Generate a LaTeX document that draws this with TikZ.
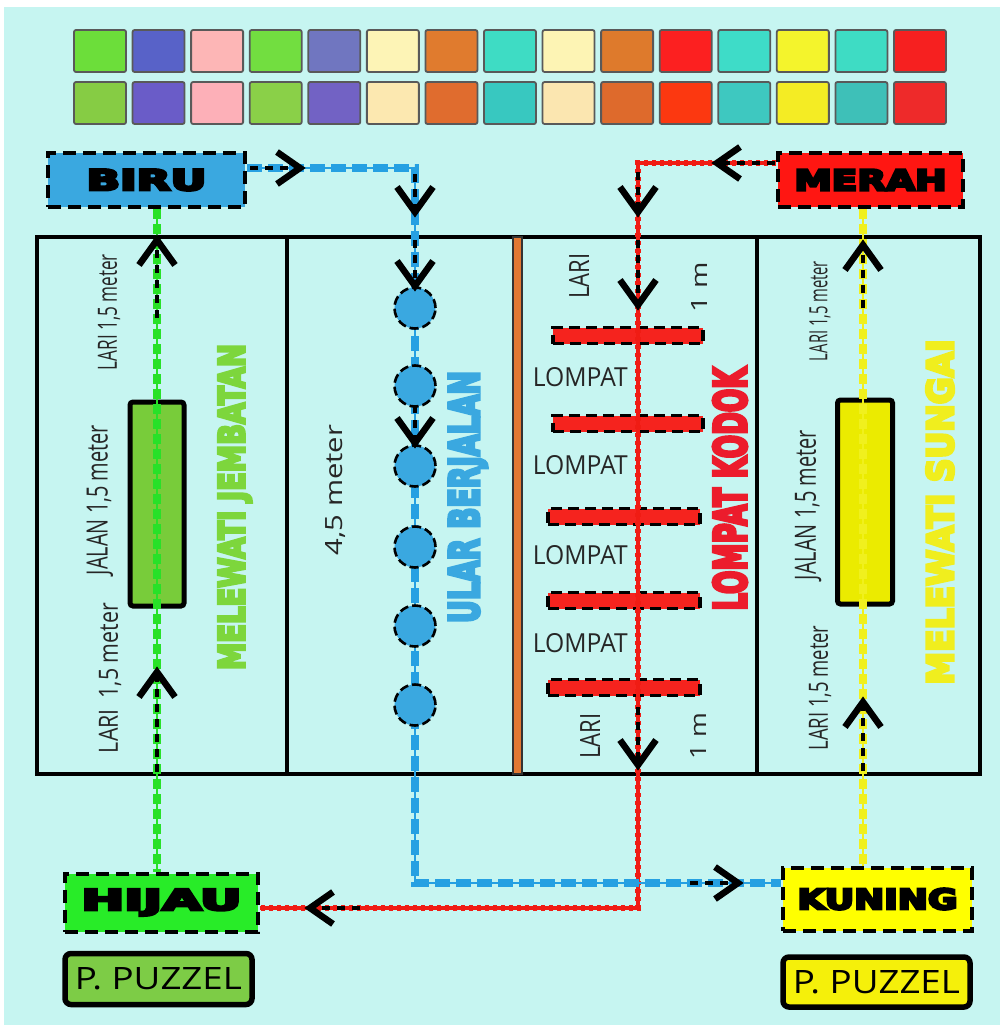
\documentclass[tikz,border=0pt]{standalone}
\usepackage{fontspec}
\usepackage{graphicx}
\newfontfamily\heavyfont{DejaVu Sans}[BoldFeatures={FakeBold=8}]
\newfontfamily\plainfont{Open Sans}
\newcommand\rszbox[3]{\resizebox{#1pt}{#2pt}{#3}}
\newcommand\heavytext[1]{{\heavyfont\bfseries #1}}
\definecolor{bg}{RGB}{198,245,241}
\definecolor{birublue}{RGB}{58,168,224}
\definecolor{blueline}{RGB}{38,160,226}
\definecolor{merahred}{RGB}{255,22,18}
\definecolor{hijaugreen}{RGB}{40,236,40}
\definecolor{kuningyellow}{RGB}{255,255,0}
\definecolor{puzgreen}{RGB}{125,204,70}
\definecolor{puzyellow}{RGB}{245,240,10}
\definecolor{greenline}{RGB}{40,225,40}
\definecolor{yellowline}{RGB}{240,240,30}
\definecolor{redline}{RGB}{240,28,20}
\definecolor{plankgreen}{RGB}{120,204,58}
\definecolor{plankyellow}{RGB}{235,235,0}
\definecolor{ttgreen}{RGB}{125,214,60}
\definecolor{ttred}{RGB}{236,28,44}
\definecolor{ttyellow}{RGB}{240,238,30}
\definecolor{barred}{RGB}{245,35,30}
\definecolor{divorange}{RGB}{225,120,50}
\definecolor{ta1}{RGB}{108,222,58}\definecolor{tb1}{RGB}{134,204,68}
\definecolor{ta2}{RGB}{88,98,200}\definecolor{tb2}{RGB}{106,92,200}
\definecolor{ta3}{RGB}{253,182,182}\definecolor{tb3}{RGB}{253,176,184}
\definecolor{ta4}{RGB}{114,222,64}\definecolor{tb4}{RGB}{138,208,72}
\definecolor{ta5}{RGB}{112,118,192}\definecolor{tb5}{RGB}{114,98,196}
\definecolor{ta6}{RGB}{253,244,182}\definecolor{tb6}{RGB}{252,232,176}
\definecolor{ta7}{RGB}{224,123,46}\definecolor{tb7}{RGB}{224,108,46}
\definecolor{ta8}{RGB}{62,220,196}\definecolor{tb8}{RGB}{56,200,192}
\definecolor{ta9}{RGB}{253,244,180}\definecolor{tb9}{RGB}{251,230,176}
\definecolor{ta10}{RGB}{222,122,44}\definecolor{tb10}{RGB}{222,106,44}
\definecolor{ta11}{RGB}{252,32,32}\definecolor{tb11}{RGB}{252,56,16}
\definecolor{ta12}{RGB}{62,220,200}\definecolor{tb12}{RGB}{62,200,192}
\definecolor{ta13}{RGB}{244,244,44}\definecolor{tb13}{RGB}{244,236,36}
\definecolor{ta14}{RGB}{62,220,196}\definecolor{tb14}{RGB}{62,192,184}
\definecolor{ta15}{RGB}{246,32,32}\definecolor{tb15}{RGB}{238,42,42}
\tikzset{
  sq/.style={draw=black!65, line width=1.8, rounded corners=2, minimum width=52, minimum height=42, inner sep=0},
  tagbox/.style={draw=black, line width=4, dash pattern=on 13pt off 7pt, inner sep=0},
  puzbox/.style={draw=black, line width=5.5, rounded corners=6, inner sep=0},
  plankbox/.style={draw=black, line width=5, rounded corners=3, inner sep=0},
  hurdle/.style={draw=black, fill=barred, line width=3.5, dash pattern=on 11pt off 6pt, inner sep=0},
  ballnode/.style={circle, draw=black, fill=birublue, line width=2.6, dash pattern=on 9pt off 4pt, minimum size=41, inner sep=0},
  thinln/.style={line width=2.2},
  dashln/.style={line width=8, dash pattern=on 10pt off 5pt},
  redstep/.style={draw=redline, line width=5.5, dash pattern=on 4pt off 4pt},
  shaft/.style={draw=black, line width=4, dash pattern=on 8pt off 7pt},
  chev/.style={draw=black, line width=6.5, line join=miter, miter limit=10},
  chevup/.pic={\draw[chev] (-18,25) -- (0,0) -- (18,25);},
  chevdown/.pic={\draw[chev] (-18,-25) -- (0,0) -- (18,-25);},
  chevright/.pic={\draw[chev] (-23,-16) -- (0,0) -- (-23,16);},
  chevleft/.pic={\draw[chev] (23,-16) -- (0,0) -- (23,16);},
  vlabel/.style={rotate=90, inner sep=0, text=black!85},
  hlabel/.style={inner sep=0, text=black!85},
  bigtitle/.style={rotate=90, inner sep=0},
}
\begin{document}
\begin{tikzpicture}[x=1pt,y=-1pt]
\useasboundingbox (0,0) rectangle (1003,1028);
\fill[white] (0,0) rectangle (1003,1028);
\fill[bg] (4,7) rectangle (1000,1025);

% colour grid
\foreach \i in {1,...,15}{
  \node[sq, fill=ta\i] (ta\i) at ({100+(\i-1)*58.57},51) {};
  \node[sq, fill=tb\i] (tb\i) at ({100+(\i-1)*58.57},103) {};
}

% field
\draw[line width=4, fill=bg] (37,237) rectangle (980,774);
\draw[line width=4] (287,237) -- (287,774);
\draw[line width=4] (757,237) -- (757,774);
\draw[fill=divorange, draw=black!80, line width=1.4] (513,237) rectangle (522,774);

% planks
\node[plankbox, fill=plankgreen, minimum width=54, minimum height=204] (plank1) at (157,504) {};
\node[plankbox, fill=plankyellow, minimum width=55, minimum height=204] (plank2) at (865,502) {};

% hurdles
\node[hurdle, minimum width=150, minimum height=16] (bar1) at (628,335.5) {};
\node[hurdle, minimum width=150, minimum height=16] (bar2) at (628,423.5) {};
\node[hurdle, minimum width=152, minimum height=16] (bar3) at (624,516.5) {};
\node[hurdle, minimum width=152, minimum height=16] (bar4) at (624,600.5) {};
\node[hurdle, minimum width=152, minimum height=16] (bar5) at (624,687.5) {};

% tag boxes
\node[tagbox, fill=birublue, minimum width=197, minimum height=54] (biru) at (146.5,180) {\rszbox{120}{21}{\heavytext{BIRU}}};
\node[tagbox, fill=merahred, minimum width=185, minimum height=54] (merah) at (870.5,180) {\rszbox{152}{21}{\heavytext{MERAH}}};
\node[tagbox, fill=hijaugreen, minimum width=193, minimum height=58] (hijau) at (161.5,902.5) {\rszbox{160}{21}{\heavytext{HIJAU}}};
\node[tagbox, fill=kuningyellow, minimum width=189, minimum height=63] (kuning) at (877.5,899) {\rszbox{160}{21}{\heavytext{KUNING}}};
\node[puzbox, fill=puzgreen, minimum width=187, minimum height=51] (puz1) at (158.5,979) {\rszbox{167}{22}{\plainfont P. PUZZEL}};
\node[puzbox, fill=puzyellow, minimum width=187, minimum height=50] (puz2) at (876.5,982) {\rszbox{167}{23}{\plainfont P. PUZZEL}};

% route coordinates
\coordinate (gx) at (157,0);
\coordinate (yx) at (863,0);
\coordinate (bh) at (415,168);
\coordinate (bv) at (415,883);
\coordinate (rh) at (638,163);
\coordinate (rv) at (638,908);

% green route
\draw[thinln, greenline] (biru.south -| gx) -- (hijau.north -| gx);
\draw[dashln, greenline] (biru.south -| gx) -- (hijau.north -| gx);
% yellow route
\draw[thinln, yellowline] (merah.south -| yx) -- (kuning.north -| yx);
\draw[dashln, yellowline] (merah.south -| yx) -- (kuning.north -| yx);
% red route
\draw[line width=3.2, redline] (merah.west |- rh) -- (rh) -- (rv) -- (hijau.east |- rv);
\draw[redstep] (merah.west |- rh) -- (rh) -- (rv) -- (hijau.east |- rv);
% blue route
\draw[thinln, blueline] (biru.east |- bh) -- (bh) -- (bv) -- (kuning.west |- bv);
\draw[dashln, blueline, dash pattern=on 15pt off 6pt] (biru.east |- bh) -- (bh) -- (bv) -- (kuning.west |- bv);

% snake balls
\foreach \y [count=\k] in {308,386,466,547,626,705}{
  \node[ballnode] (ball\k) at (415,\y) {};
}

% arrow shafts and heads
\coordinate (g1tip) at (157,240); \coordinate (g1tail) at (157,318);
\coordinate (g2tip) at (157,672); \coordinate (g2tail) at (157,772);
\coordinate (y1tip) at (863,245); \coordinate (y1tail) at (863,308);
\coordinate (y2tip) at (863,702); \coordinate (y2tail) at (863,771);
\coordinate (b1tip) at (300,168); \coordinate (b1tail) at (250,168);
\coordinate (b2tip) at (415,212); \coordinate (b2tail) at (415,174);
\coordinate (b3tip) at (415,286); \coordinate (b3tail) at (415,240);
\coordinate (b4tip) at (415,443); \coordinate (b4tail) at (415,405);
\coordinate (b5tip) at (738,883); \coordinate (b5tail) at (690,883);
\coordinate (r1tip) at (717,163); \coordinate (r1tail) at (775,163);
\coordinate (r2tip) at (638,212); \coordinate (r2tail) at (638,172);
\coordinate (r3tip) at (638,305); \coordinate (r3tail) at (638,240);
\coordinate (r4tip) at (638,765); \coordinate (r4tail) at (638,707);
\coordinate (r5tip) at (310,908); \coordinate (r5tail) at (360,908);
\foreach \a in {g1,g2,y1,y2,b1,b2,b3,b4,b5,r1,r2,r3,r4,r5}{
  \draw[shaft] (\a tail) -- (\a tip);
}
\pic at (g1tip) {chevup};
\pic at (g2tip) {chevup};
\pic at (y1tip) {chevup};
\pic at (y2tip) {chevup};
\pic at (b1tip) {chevright};
\pic at (b2tip) {chevdown};
\pic at (b3tip) {chevdown};
\pic at (b4tip) {chevdown};
\pic at (b5tip) {chevright};
\pic at (r1tip) {chevleft};
\pic at (r2tip) {chevdown};
\pic at (r3tip) {chevdown};
\pic at (r4tip) {chevdown};
\pic at (r5tip) {chevleft};

% lane texts
\node[vlabel] (l1a) at (109,312) {\rszbox{116}{19}{\plainfont LARI 1,5 meter}};
\node[vlabel] (l1b) at (100,500) {\rszbox{150}{21}{\plainfont JALAN 1,5 meter}};
\node[vlabel] (l1c) at (110,678) {\rszbox{150}{19}{\plainfont LARI\ \ 1,5 meter}};
\node[vlabel] (l4a) at (820,311) {\rszbox{100}{18}{\plainfont LARI 1,5 meter}};
\node[vlabel] (l4b) at (808,505) {\rszbox{150}{21}{\plainfont JALAN 1,5 meter}};
\node[vlabel] (l4c) at (820,688) {\rszbox{125}{19}{\plainfont LARI 1,5 meter}};
\node[vlabel] (l2a) at (336,490) {\rszbox{130}{17}{\plainfont 4,5 meter}};
\node[vlabel] (l3a) at (579,276) {\rszbox{45}{20}{\plainfont LARI}};
\node[vlabel] (l3b) at (699,287) {\rszbox{50}{16}{\plainfont 1 m}};
\node[vlabel] (l3c) at (590,736) {\rszbox{45}{20}{\plainfont LARI}};
\node[vlabel] (l3d) at (698,736) {\rszbox{47}{16}{\plainfont 1 m}};
\node[hlabel, anchor=east] (lp1) at (628,377) {\rszbox{95}{19}{\plainfont LOMPAT}};
\node[hlabel, anchor=east] (lp2) at (628,465) {\rszbox{95}{19}{\plainfont LOMPAT}};
\node[hlabel, anchor=east] (lp3) at (628,555) {\rszbox{95}{19}{\plainfont LOMPAT}};
\node[hlabel, anchor=east] (lp4) at (628,643) {\rszbox{95}{19}{\plainfont LOMPAT}};

% big titles
\node[bigtitle, text=ttgreen] (t1) at (235,507) {\rszbox{326}{26}{\heavytext{MELEWATI JEMBATAN}}};
\node[bigtitle, text=birublue] (t2) at (468,497) {\rszbox{252}{30}{\heavytext{ULAR BERJALAN}}};
\node[bigtitle, text=ttred] (t3) at (730,489) {\rszbox{243}{33}{\heavytext{LOMPAT KODOK}}};
\node[bigtitle, text=ttyellow] (t4) at (940,512) {\rszbox{345}{27}{\heavytext{MELEWATI SUNGAI}}};
\end{tikzpicture}
\end{document}
